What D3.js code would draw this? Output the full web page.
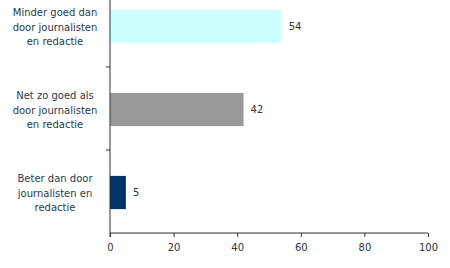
<!DOCTYPE html>
<html>
<head>
<meta charset="utf-8">
<script src="https://cdn.jsdelivr.net/npm/d3@7"></script>
<style>
  body { margin: 0; background: #fff; }
  text { font-family: "DejaVu Sans", Verdana, sans-serif; }
</style>
</head>
<body>
<div id="chart"></div>
<script>
/*
 * data
 */
const categories = [
  ['Minder goed dan', 'door journalisten', 'en redactie'],
  ['Net zo goed als', 'door journalisten', 'en redactie'],
  ['Beter dan door', 'journalisten en', 'redactie']
]
const values = [54, 42, 5]
const colors = ['#ccffff', '#999999', '#003366']
const xTicks = [0, 20, 40, 60, 80, 100]

/*
 * setup
 */
const w = 450
const h = 268
const left = 110
const right = 428
const bottom = 233
const band = 83

const svg = d3.select('#chart')
  .append('svg')
  .attr('width', w)
  .attr('height', h)

const x = d3.scaleLinear()
  .domain([0, 100])
  .range([left, right])

const y = d3.scaleBand()
  .domain(d3.range(categories.length))
  .range([bottom - band * categories.length, bottom])
  .paddingInner(0.6)
  .paddingOuter(0.3)

// bars
svg.append('g')
  .selectAll('rect')
  .data(values)
  .enter()
  .append('rect')
  .attr('x', x(0))
  .attr('y', (d, i) => y(i) + 1)
  .attr('width', d => x(d) - x(0))
  .attr('height', y.bandwidth())
  .style('fill', (d, i) => colors[i])

// value labels
svg.append('g')
  .selectAll('text')
  .data(values)
  .enter()
  .append('text')
  .attr('x', d => x(d) + 7)
  .attr('y', (d, i) => y(i) + 1 + y.bandwidth() / 2)
  .attr('dy', '0.35em')
  .style('font-size', '10px')
  .style('fill', '#333')
  .text(d => d)

// x axis
const xAxis = svg.append('g')
  .attr('transform', `translate(0,${bottom})`)
  .call(d3.axisBottom(x).tickValues(xTicks).tickSize(4).tickPadding(7))
xAxis.select('.domain').attr('stroke', '#333').attr('d', `M${left},0H${right}`)
xAxis.selectAll('.tick line').attr('stroke', '#333')
xAxis.selectAll('.tick text')
  .style('font-family', '"DejaVu Sans", Verdana, sans-serif')
  .style('font-size', '10px')
  .style('fill', '#333')

// y axis line and category ticks
svg.append('line')
  .attr('x1', left).attr('x2', left)
  .attr('y1', 0).attr('y2', bottom + 4)
  .attr('stroke', '#333')

const yTicks = d3.range(1, categories.length)
svg.append('g')
  .selectAll('line')
  .data(yTicks)
  .enter()
  .append('line')
  .attr('x1', left - 4).attr('x2', left)
  .attr('y1', i => bottom - band * categories.length + band * i)
  .attr('y2', i => bottom - band * categories.length + band * i)
  .attr('stroke', '#333')

// category labels
const labels = svg.append('g')
  .selectAll('text')
  .data(categories)
  .enter()
  .append('text')
  .attr('x', 55)
  .attr('y', (d, i) => y(i) + 1 + y.bandwidth() / 2 - 14)
  .attr('text-anchor', 'middle')
  .style('font-size', '10px')
  .style('fill', '#2b3a4a')

labels.selectAll('tspan')
  .data(d => d)
  .enter()
  .append('tspan')
  .attr('x', 55)
  .attr('dy', (d, i) => i == 0 ? '0.35em' : '14.5px')
  .text(d => d)
</script>
</body>
</html>
